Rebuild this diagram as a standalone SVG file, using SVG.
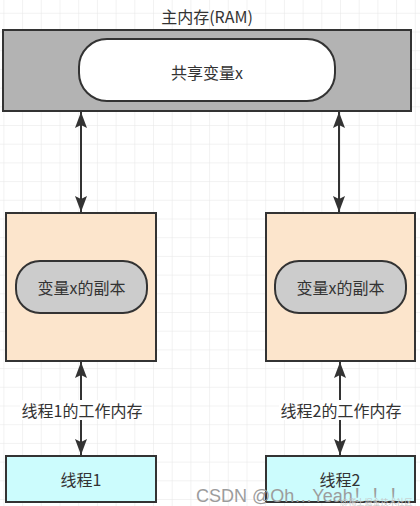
<svg xmlns="http://www.w3.org/2000/svg" width="420" height="506" viewBox="0 0 420 506">
  <style>
    text { font-family: "Noto Sans CJK SC", "Liberation Sans", sans-serif; font-size: 16px; fill: #333333; text-anchor: middle; dominant-baseline: central; }
    .box { stroke: #333333; stroke-width: 2; }
    .conn { stroke: #333333; stroke-width: 2; fill: none; }
    .lblbg { fill: #ffffff; }
    .wm { font-family: "Liberation Sans", "Noto Sans CJK SC", sans-serif; font-size: 18px; fill: #9c9c9c; text-anchor: start; }
    .wm2 { font-family: "Noto Sans CJK SC", sans-serif; font-size: 8px; fill: #c4c4c4; text-anchor: start; }
  </style>
  <defs>
    <pattern id="grid" x="3.4" y="12.8" width="18.7" height="18.7" patternUnits="userSpaceOnUse">
      <path d="M0,0 H18.7 M0,0 V18.7" stroke="#e6e6e6" stroke-width="1" fill="none"/>
    </pattern>
    <marker id="arr" markerUnits="userSpaceOnUse" markerWidth="16" markerHeight="12" refX="16" refY="6" orient="auto-start-reverse" viewBox="0 0 16 12">
      <path d="M0,0 L16,6 L0,12 L3,6 Z" fill="#333333"/>
    </marker>
  </defs>
  <rect x="0" y="0" width="420" height="506" fill="#ffffff"/>
  <rect x="0" y="0" width="420" height="506" fill="url(#grid)"/>

  <g id="main-memory">
    <text x="207" y="16">主内存(RAM)</text>
    <rect class="box" x="3" y="30" width="408" height="81" fill="#b3b3b3"/>
  </g>
  <g id="shared-var">
    <rect class="box" x="79" y="39" width="256" height="62" rx="28" ry="28" fill="#ffffff"/>
    <text x="207" y="72">共享变量x</text>
  </g>

  <g id="work-mem-1">
    <rect class="box" x="6" y="213" width="150" height="148" fill="#fce5cc"/>
  </g>
  <g id="copy-1">
    <rect class="box" x="16" y="261" width="131" height="52" rx="24" ry="24" fill="#cccccc"/>
    <text x="81.5" y="287">变量x的副本</text>
  </g>

  <g id="work-mem-2">
    <rect class="box" x="266" y="213" width="149" height="148" fill="#fce5cc"/>
  </g>
  <g id="copy-2">
    <rect class="box" x="275" y="261" width="131" height="52" rx="24" ry="24" fill="#cccccc"/>
    <text x="340.5" y="287">变量x的副本</text>
  </g>

  <g id="thread-1">
    <rect class="box" x="6" y="456" width="150" height="46" fill="#ccfcfd"/>
    <text x="81" y="479">线程1</text>
  </g>
  <g id="thread-2">
    <rect class="box" x="266" y="456" width="149" height="46" fill="#ccfcfd"/>
    <text x="340" y="479">线程2</text>
  </g>

  <g id="connectors">
    <line class="conn" x1="81" y1="112" x2="81" y2="212" marker-start="url(#arr)" marker-end="url(#arr)"/>
    <line class="conn" x1="339" y1="112" x2="339" y2="212" marker-start="url(#arr)" marker-end="url(#arr)"/>
    <line class="conn" x1="81" y1="362" x2="81" y2="455" marker-start="url(#arr)" marker-end="url(#arr)"/>
    <line class="conn" x1="340" y1="362" x2="340" y2="455" marker-start="url(#arr)" marker-end="url(#arr)"/>
    <rect class="lblbg" x="20" y="400" width="124" height="20"/>
    <text x="82" y="410">线程1的工作内存</text>
    <rect class="lblbg" x="279" y="400" width="124" height="20"/>
    <text x="341" y="410">线程2的工作内存</text>
  </g>

  <text class="wm" x="196" y="496" dominant-baseline="alphabetic">CSDN @Oh…Yeah！！！</text>
  <text class="wm2" x="341" y="501" dominant-baseline="alphabetic">@稀土掘金技术社区</text>
</svg>
